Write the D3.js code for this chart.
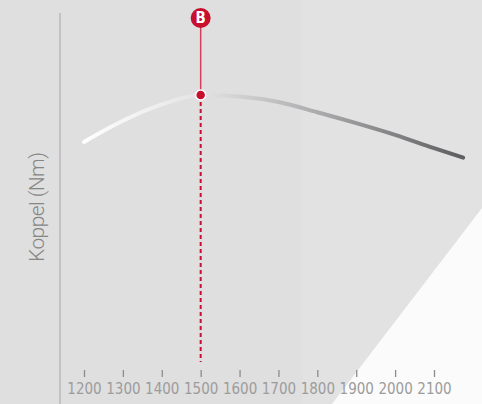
<!DOCTYPE html>
<html>
<head>
<meta charset="utf-8">
<script src="https://cdn.jsdelivr.net/npm/d3@7"></script>
<style>
  html, body { margin: 0; padding: 0; background: #dfdfdf; }
  svg { display: block; }
</style>
</head>
<body>
<div id="chart"></div>
<script>
var rpm = [1200, 1300, 1400, 1500, 1600, 1700, 1800, 1900, 2000, 2100, 2175];
var koppel = [340, 367, 388, 400, 398, 391, 378, 364, 349, 332, 320];
var tickLabels = [1200, 1300, 1400, 1500, 1600, 1700, 1800, 1900, 2000, 2100];
var markerRpm = 1500;
var markerLabel = "B";
var yTitle = "Koppel (Nm)";

var W = 482, H = 404;
var red = "#c8102e";

var svg = d3.select("#chart").append("svg")
	.attr("width", W)
	.attr("height", H);

// achtergrond
svg.append("rect").attr("width", W).attr("height", H).attr("fill", "#dfdfdf");
svg.append("rect").attr("x", 302).attr("width", W - 302).attr("height", H).attr("fill", "#e2e2e2");
svg.append("polygon")
	.attr("points", "332,404 482,208 482,404")
	.attr("fill", "#fbfbfb");

var x = d3.scaleLinear().domain([1200, 2100]).range([84, 434]);
var y = d3.scaleLinear().domain([0, 400]).range([408, 95]);

// verticale as
svg.append("line")
	.attr("x1", 60).attr("x2", 60)
	.attr("y1", 13).attr("y2", H)
	.attr("stroke", "#b9b9bd")
	.attr("stroke-width", 1.5);

// x-as ticks
var xAxis = d3.axisBottom(x)
	.tickValues(tickLabels)
	.tickSize(7)
	.tickPadding(6)
	.tickFormat(d3.format("d"));

var gx = svg.append("g")
	.attr("transform", "translate(0,370)")
	.call(xAxis);
gx.select(".domain").remove();
gx.selectAll(".tick line").attr("stroke", "#8c8c8c").attr("stroke-width", 1.3);
gx.selectAll(".tick text")
	.attr("fill", "#9c9c9c")
	.style("font-family", "'Liberation Sans Narrow', 'DejaVu Sans Condensed', sans-serif")
	.style("font-size", "15px");

// y-titel
svg.append("text")
	.attr("transform", "translate(44,207) rotate(-90)")
	.attr("text-anchor", "middle")
	.attr("fill", "#868686")
	.attr("textLength", 110)
	.style("font-family", "Roboto, 'Liberation Sans', sans-serif")
	.style("font-weight", 300)
	.style("font-size", "21px")
	.text(yTitle);

// gradient voor de curve
var grad = svg.append("defs").append("linearGradient")
	.attr("id", "curveGrad")
	.attr("gradientUnits", "userSpaceOnUse")
	.attr("x1", x(rpm[0])).attr("x2", x(rpm[rpm.length - 1]))
	.attr("y1", 0).attr("y2", 0);
grad.append("stop").attr("offset", 0).attr("stop-color", "#ffffff");
grad.append("stop").attr("offset", 0.3).attr("stop-color", "#e4e4e4");
grad.append("stop").attr("offset", 0.55).attr("stop-color", "#b8b8ba");
grad.append("stop").attr("offset", 1).attr("stop-color", "#5e5e60");

var line = d3.line()
	.x(function(d) { return x(d[0]); })
	.y(function(d) { return y(d[1]); })
	.curve(d3.curveMonotoneX);

svg.append("path")
	.datum(d3.zip(rpm, koppel))
	.attr("d", line)
	.attr("fill", "none")
	.attr("stroke", "url(#curveGrad)")
	.attr("stroke-width", 4)
	.attr("stroke-linecap", "round");

// markering B
var mi = rpm.indexOf(markerRpm);
var mx = x(markerRpm), my = y(koppel[mi]);

svg.append("line")
	.attr("x1", mx).attr("x2", mx)
	.attr("y1", my).attr("y2", 362)
	.attr("stroke", red)
	.attr("stroke-width", 2)
	.attr("stroke-dasharray", "4,3");

svg.append("line")
	.attr("x1", mx).attr("x2", mx)
	.attr("y1", 18).attr("y2", my)
	.attr("stroke", "#d0405a")
	.attr("stroke-width", 1.5);

svg.append("circle")
	.attr("cx", mx).attr("cy", 18).attr("r", 10)
	.attr("fill", red);
svg.append("text")
	.attr("x", mx).attr("y", 18)
	.attr("dy", "0.36em")
	.attr("text-anchor", "middle")
	.attr("fill", "#fff")
	.style("font-family", "'Liberation Sans Narrow', 'DejaVu Sans Condensed', sans-serif")
	.style("font-weight", "bold")
	.style("font-size", "15px")
	.text(markerLabel);

svg.append("circle")
	.attr("cx", mx).attr("cy", my).attr("r", 5)
	.attr("fill", red)
	.attr("stroke", "#fff")
	.attr("stroke-width", 1.5);
</script>
</body>
</html>
